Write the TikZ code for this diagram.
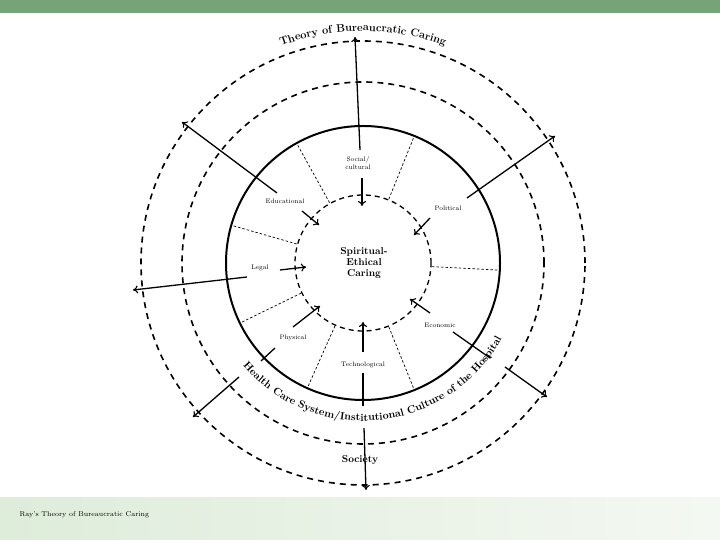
\documentclass[tikz,border=0pt]{standalone}
\usetikzlibrary{decorations.text,arrows.meta,calc}
\definecolor{barg}{RGB}{118,164,120}
\definecolor{bandl}{RGB}{222,236,218}
\definecolor{bandr}{RGB}{244,248,242}
\begin{document}
\begin{tikzpicture}[x=1pt,y=1pt,
  dcirc/.style={line width=1.6pt,dash pattern=on 6pt off 5pt},
  spoke/.style={line width=0.7pt,dash pattern=on 2.5pt off 2pt},
  arr/.style={line width=1.3pt,-{To[length=5pt,width=8pt,line width=1.1pt]}},
  lbl/.style={font=\fontsize{6.5}{7.5}\selectfont,align=center,inner sep=1pt}]
\useasboundingbox (0,0) rectangle (720,540);
\fill[white] (0,0) rectangle (720,540);
\fill[barg] (0,527) rectangle (720,540);
\shade[left color=bandl,right color=bandr] (0,0) rectangle (720,42);
\node[anchor=west,font=\fontsize{7}{8}\selectfont] (cap) at (16,25) {Ray's Theory of Bureaucratic Caring};
\coordinate (c) at (363,277);
\draw[dcirc] (c) circle (222);
\draw[dcirc] (c) circle (181);
\draw[line width=2pt] (c) circle (137);
\draw[dcirc,line width=1.3pt,dash pattern=on 5pt off 4pt] (c) circle (68);
\foreach \a in {68,119,164,-3,206,246,292}
  \draw[spoke] ($(c)+(\a:69)$) -- ($(c)+(\a:136)$);
\node[font=\bfseries\fontsize{10}{11}\selectfont,align=center] (core) at (364,277) {Spiritual-\\Ethical\\Caring};
\node[lbl] (soc) at (358,377) {Social/\\cultural};
\node[lbl] (edu) at (285,339) {Educational};
\node[lbl] (pol) at (448,332) {Political};
\node[lbl] (leg) at (260,272) {Legal};
\node[lbl] (phy) at (293,202) {Physical};
\node[lbl] (tec) at (363,175) {Technological};
\node[lbl] (eco) at (440,215) {Economic};
\node[font=\bfseries\fontsize{10}{11}\selectfont] (soci) at (360,80) {Society};
% long arrows
\draw[arr] (360,390) -- (355,503);
\draw[arr] (277,347) -- (182,418);
\draw[arr] (467,342) -- (555,404);
\draw[arr] (247,263) -- (133,250);
\draw[line width=1.3pt] (275,192) -- (261,179);
\draw[arr] (239,163) -- (193,123);
\draw[line width=1.3pt] (363,167) -- (363,134);
\draw[arr] (364,112) -- (366,50);
\draw[line width=1.3pt] (453,208) -- (490,182);
\draw[arr] (505,173) -- (547,143);
% short arrows
\draw[arr] (362,362) -- (362,334);
\draw[arr] (302,329) -- (319,315);
\draw[arr] (430,322) -- (414,305);
\draw[arr] (280,270) -- (306,273);
\draw[arr] (293,213) -- (320,234);
\draw[arr] (363,188) -- (363,218);
\draw[arr] (430,227) -- (410,241);
% curved texts
\path[decorate,decoration={text along path,text align=center,
  text={|\bfseries\fontsize{11}{12}\selectfont|Theory of Bureaucratic Caring}}]
  ($(c)+(116:232)$) arc (116:64:232);
\path[decorate,decoration={text along path,text align=center,
  text={|\bfseries\fontsize{10.5}{12}\selectfont|Health Care System/Institutional Culture of the Hospital}}]
  ($(c)+(212:158)$) arc (212:340:158);
\end{tikzpicture}
\end{document}
